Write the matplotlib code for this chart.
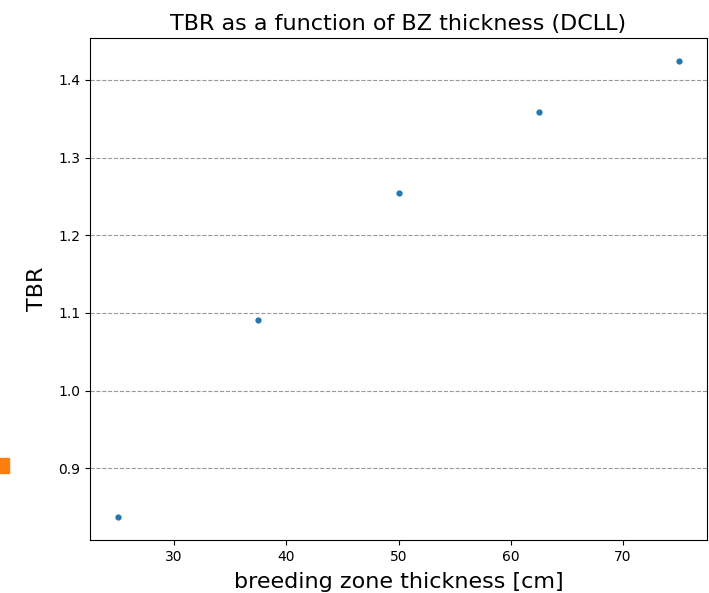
import matplotlib
matplotlib.use("Agg")
import matplotlib.pyplot as plt
from matplotlib.patches import Rectangle

thickness_cm = [25, 37.5, 50, 62.5, 75]
tbr = [0.837, 1.091, 1.254, 1.359, 1.4245]

W, H = 709, 593
fig = plt.figure(figsize=(W / 100, H / 100), dpi=100)
ax = fig.add_axes([90 / W, 1 - 540 / H, (707 - 90) / W, (540 - 38) / H])
ax.scatter(thickness_cm, tbr, s=12, color="#1f77b4", zorder=3)
ax.grid(axis="y", linestyle="--", color="gray", alpha=0.8)
ax.set_title("TBR as a function of BZ thickness (DCLL)", fontsize=16)
ax.set_xlabel("breeding zone thickness [cm]", fontsize=16, labelpad=6)
ax.set_ylabel("TBR", fontsize=16, labelpad=8)

fig.patches.append(Rectangle((0, 1 - 473 / H), 9 / W, 15 / H, transform=fig.transFigure,
                             color="#ff7f0e", figure=fig))

fig.savefig("out.png", dpi=100)
